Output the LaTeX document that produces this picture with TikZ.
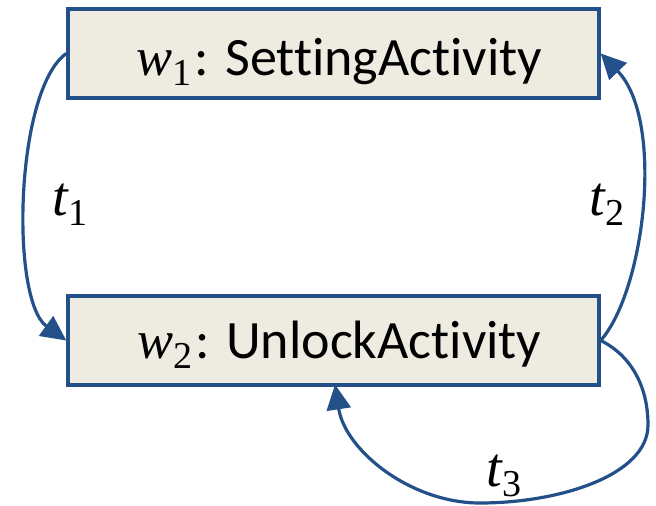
\documentclass[tikz,border=0pt]{standalone}
\usepackage{fontspec}
\setmainfont{Carlito}[Ligatures=NoCommon]
\newfontfamily\mfont{Liberation Serif}
\usetikzlibrary{arrows.meta}
\definecolor{edgeblue}{HTML}{24508A}
\definecolor{boxfill}{HTML}{EEECE1}
\newcommand\mvar[2]{{\mfont\itshape #1}\raisebox{-10pt}{\fontsize{38}{38}\selectfont\mfont #2}}
\begin{document}
\begin{tikzpicture}[x=1pt,y=-1pt,
  statebox/.style={draw=edgeblue,fill=boxfill,line width=3.4pt,rectangle,
    minimum width=531pt,minimum height=89pt,inner sep=0pt,text depth=0pt,
    font=\fontsize{54}{60}\selectfont},
  trans/.style={draw=edgeblue,line width=3.2pt,-{Triangle[length=25pt,width=24pt]}},
  tlabel/.style={inner sep=0pt,font=\fontsize{56}{60}\selectfont}]
\path[use as bounding box] (0,0) rectangle (656,506);
\node[statebox,text height=43pt] (A) at (333.5,53.5) {\hspace*{12pt}\mvar{w}{1}\kern3pt: SettingActivity};
\node[statebox,text height=36pt] (B) at (333.5,340.5) {\hspace*{12pt}\mvar{w}{2}\kern3pt: UnlockActivity};
\draw[trans] (A.west) .. controls (15,90) and (10,300) .. (B.west);
\draw[trans] (B.east) .. controls (645,290) and (665,120) .. (A.east);
\coordinate (r3) at (648,425);
\coordinate (b3) at (480,503);
\coordinate (e3) at (335,384.5);
\draw[trans] (B.east) .. controls (630,355) and (648,385) .. (r3)
  .. controls (648,475) and (560,503) .. (b3)
  .. controls (410,503) and (345,450) .. (e3);
\node[tlabel] (l1) at (70,205) {\mvar{t}{1}};
\node[tlabel] (l2) at (607,205) {\mvar{t}{2}};
\node[tlabel] (l3) at (504,476) {\mvar{t}{3}};
\end{tikzpicture}
\end{document}
